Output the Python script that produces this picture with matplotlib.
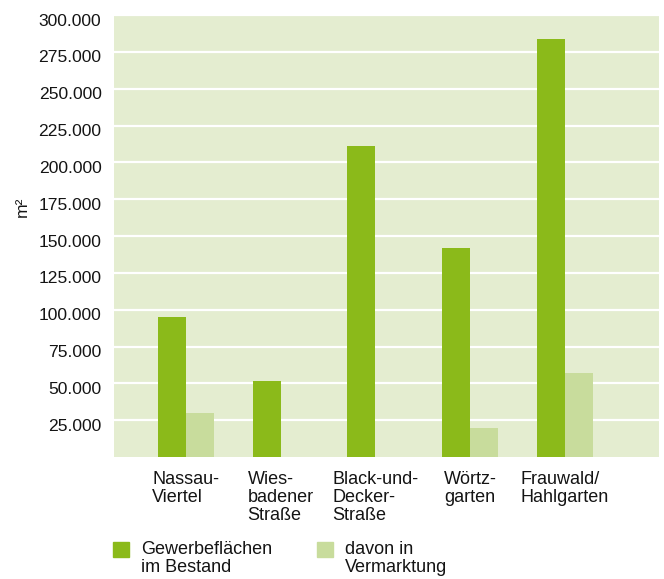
import matplotlib
matplotlib.use("Agg")
import matplotlib.pyplot as plt
import matplotlib.patches as patches
import matplotlib.transforms as transforms
import numpy as np

plt.rcParams['font.family'] = ['Liberation Sans', 'DejaVu Sans']

categories = ['Nassau-\nViertel', 'Wies-\nbadener\nStraße', 'Black-und-\nDecker-\nStraße',
              'Wörtz-\ngarten', 'Frauwald/\nHahlgarten']
bestand = [95000, 51500, 211000, 142000, 283500]
vermarktung = [30000, 0, 0, 20000, 57000]
series_labels = ['Gewerbeflächen\nim Bestand', 'davon in\nVermarktung']
yticks = list(range(25000, 300001, 25000))

dark = '#8bba1a'
light = '#c8dc9c'
bg = '#e4edd0'
ink = '#141414'

fig = plt.figure(figsize=(6.64, 5.79), dpi=100)
ax = fig.add_axes([114 / 664, 1 - 457 / 579, 545 / 664, 442 / 579])
ax.set_facecolor(bg)

x = np.arange(len(categories))
w = 0.295
ax.bar(x - w / 2, bestand, width=w, color=dark, zorder=3)
ax.bar(x + w / 2, vermarktung, width=w, color=light, zorder=3)

ax.set_xlim(-0.756, 4.99)
ax.set_ylim(0, 300000)

ax.set_yticks(yticks)
ax.set_yticklabels([f"{v:,}".replace(",", ".") for v in yticks], fontsize=12.6, color=ink)
ax.yaxis.grid(True, color='white', linewidth=1.6, zorder=1)
ax.tick_params(axis='y', length=0, pad=9)
ax.tick_params(axis='x', length=0, pad=10)
for lbl in ax.get_yticklabels():
    lbl.set_verticalalignment('top')
    lbl.set_transform(lbl.get_transform() + transforms.ScaledTranslation(0, 1 / 72, fig.dpi_scale_trans))

ax.set_xticks(x)
ax.set_xticklabels(categories, fontsize=13, color=ink, linespacing=1.1,
                   multialignment='left', va='top')

for s in ax.spines.values():
    s.set_visible(False)

ax.set_ylabel('m²', fontsize=12.6, color=ink)
ax.yaxis.set_label_coords(-0.155, 0.565)

# legend drawn by hand below the category labels
leg_x = [113, 317]
for i, (lab, col) in enumerate(zip(series_labels, [dark, light])):
    fig.patches.append(patches.Rectangle((leg_x[i] / 664, 1 - 557 / 579), 16 / 664, 15 / 579,
                                         transform=fig.transFigure, color=col))
    fig.text((leg_x[i] + 28) / 664, 1 - 541 / 579, lab, fontsize=13, color=ink,
             va='top', ha='left', linespacing=1.1)

fig.savefig('out.png', dpi=100)
